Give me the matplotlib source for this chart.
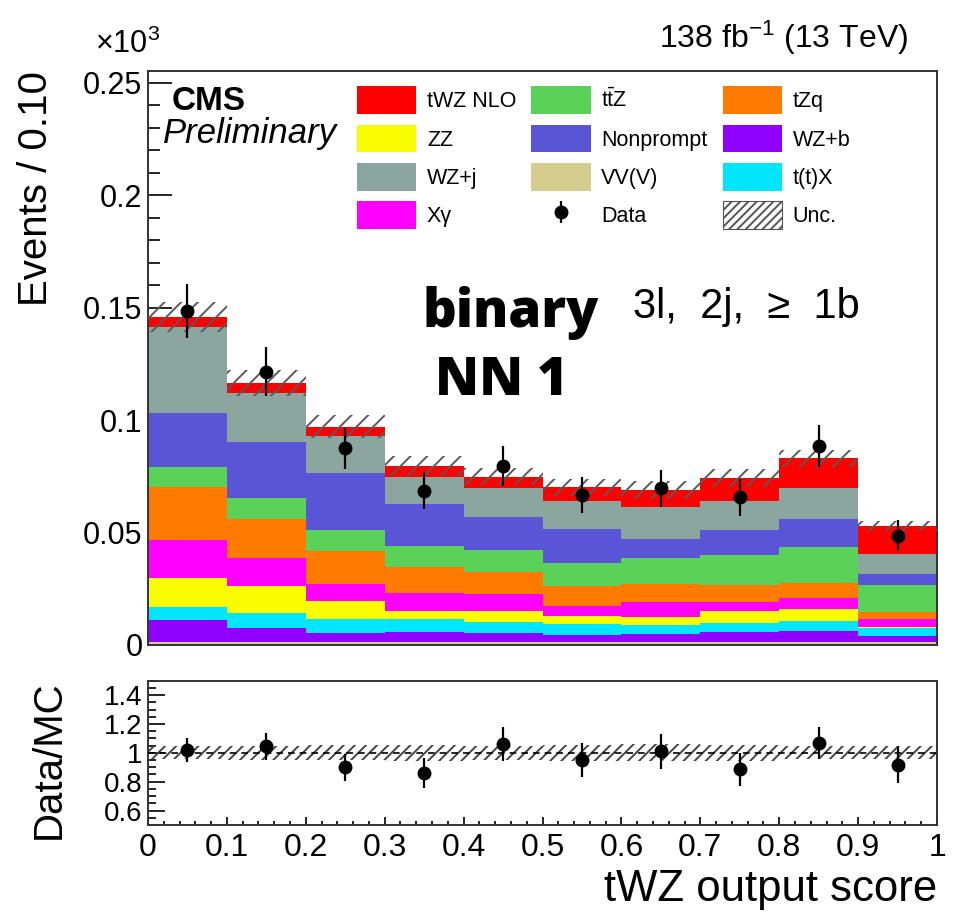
import numpy as np
import matplotlib
matplotlib.use("Agg")
import matplotlib.pyplot as plt
from matplotlib.patches import Patch
from matplotlib.ticker import MultipleLocator, FuncFormatter

plt.rcParams['font.family'] = ['Liberation Sans', 'DejaVu Sans']
plt.rcParams['mathtext.fontset'] = 'custom'
plt.rcParams['mathtext.rm'] = 'Liberation Sans'
plt.rcParams['mathtext.it'] = 'Liberation Sans:italic'
plt.rcParams['hatch.linewidth'] = 1.4

# bins of the tWZ output score
bin_edges = np.round(np.arange(0.0, 1.01, 0.1), 2)

# stacked backgrounds / signal, in units of 10^3 events (bottom -> top)
vvv       = [0.0015, 0.0015, 0.0015, 0.0015, 0.0015, 0.0015, 0.0015, 0.0015, 0.0015, 0.0015]
wz_b      = [0.0096, 0.0059, 0.0040, 0.0041, 0.0037, 0.0029, 0.0034, 0.0041, 0.0049, 0.0025]
ttx       = [0.0056, 0.0070, 0.0059, 0.0058, 0.0049, 0.0048, 0.0040, 0.0040, 0.0044, 0.0034]
zz        = [0.0129, 0.0118, 0.0083, 0.0038, 0.0050, 0.0038, 0.0034, 0.0056, 0.0051, 0.0007]
xgamma    = [0.0171, 0.0126, 0.0074, 0.0078, 0.0076, 0.0045, 0.0070, 0.0041, 0.0048, 0.0036]
tzq       = [0.0237, 0.0171, 0.0147, 0.0115, 0.0096, 0.0087, 0.0078, 0.0074, 0.0070, 0.0028]
ttz       = [0.0086, 0.0093, 0.0093, 0.0096, 0.0099, 0.0104, 0.0117, 0.0133, 0.0160, 0.0122]
nonprompt = [0.0243, 0.0252, 0.0255, 0.0186, 0.0148, 0.0150, 0.0083, 0.0111, 0.0122, 0.0049]
wz_j      = [0.0379, 0.0217, 0.0163, 0.0121, 0.0129, 0.0124, 0.0144, 0.0130, 0.0140, 0.0087]
twz       = [0.0047, 0.0042, 0.0041, 0.0048, 0.0049, 0.0061, 0.0074, 0.0100, 0.0131, 0.0126]

# observed data and its uncertainty
data     = [0.1486, 0.1215, 0.0874, 0.0686, 0.0796, 0.0667, 0.0696, 0.0656, 0.0884, 0.0486]
data_err = [0.0121, 0.0108, 0.0091, 0.0082, 0.0088, 0.0082, 0.0082, 0.0083, 0.0092, 0.0069]

# relative uncertainty of the prediction
unc_rel = [0.046, 0.050, 0.053, 0.055, 0.050, 0.055, 0.058, 0.054, 0.046, 0.045]

samples = [
    ("VV(V)", vvv, "#d5cd8e"),
    ("WZ+b", wz_b, "#9000ff"),
    ("t(t)X", ttx, "#00e6ff"),
    ("ZZ", zz, "#fafc00"),
    ("X\u03b3", xgamma, "#ff00ff"),
    ("tZq", tzq, "#ff7b00"),
    ("t$\\bar{\\rm t}$Z", ttz, "#5ad157"),
    ("Nonprompt", nonprompt, "#5955d6"),
    ("WZ+j", wz_j, "#8ba59f"),
    ("tWZ NLO", twz, "#ff0000"),
]

left = bin_edges[:-1]
centers = left + 0.05
width = 0.1

fig = plt.figure(figsize=(9.58, 9.23), dpi=100)
ax = fig.add_axes([0.1545, 0.3012, 0.8236, 0.6222])
rax = fig.add_axes([0.1545, 0.1062, 0.8236, 0.1563])

bottom = np.zeros(len(left))
handles = {}
for name, vals, col in samples:
    vals = np.array(vals)
    ax.bar(left, vals, width=width, bottom=bottom, align='edge',
           color=col, linewidth=0, zorder=2)
    handles[name] = Patch(facecolor=col, edgecolor='none')
    bottom = bottom + vals
total = bottom

unc_abs = total * np.array(unc_rel)
ax.bar(left, 2 * unc_abs, width=width, bottom=total - unc_abs, align='edge',
       fill=False, hatch='//', edgecolor='#5a5a5a', linewidth=0, zorder=3)

eb = ax.errorbar(centers, data, yerr=data_err, fmt='o', color='black',
                 markersize=9, elinewidth=1.6, capsize=0, zorder=4)

# legend, three columns filled row by row as in the original
unc_handle = Patch(facecolor='white', edgecolor='#555555', hatch='////', linewidth=0.8)
order = [
    (handles["tWZ NLO"], "tWZ NLO"),
    (handles["ZZ"], "ZZ"),
    (handles["WZ+j"], "WZ+j"),
    (handles["X\u03b3"], "X\u03b3"),
    (handles["t$\\bar{\\rm t}$Z"], "t$\\bar{\\rm t}$Z"),
    (handles["Nonprompt"], "Nonprompt"),
    (handles["VV(V)"], "VV(V)"),
    (eb, "Data"),
    (handles["tZq"], "tZq"),
    (handles["WZ+b"], "WZ+b"),
    (handles["t(t)X"], "t(t)X"),
    (unc_handle, "Unc."),
]
ax.legend([h for h, _ in order], [l for _, l in order], ncol=3,
          loc='upper left', bbox_to_anchor=(0.2649, 0.973), frameon=False,
          fontsize=15.5, borderpad=0, borderaxespad=0, handlelength=2.75,
          handleheight=1.6, handletextpad=0.5, columnspacing=0.7,
          labelspacing=0.5)

ax.set_xlim(0, 1)
ax.set_ylim(0, 0.2553)
ax.set_ylabel("Events / 0.10", fontsize=29, loc='top')
ax.yaxis.set_label_coords(-0.118, 1.0)
ax.yaxis.set_major_locator(MultipleLocator(0.05))
ax.yaxis.set_minor_locator(MultipleLocator(0.01))
ax.yaxis.set_major_formatter(FuncFormatter(lambda v, p: "%g" % round(v, 3)))
ax.xaxis.set_major_locator(MultipleLocator(0.1))
ax.xaxis.set_minor_locator(MultipleLocator(0.02))
ax.tick_params(axis='y', which='major', direction='in', length=17, width=1.2,
               labelsize=22, pad=4)
ax.tick_params(axis='y', which='minor', direction='in', length=8.5, width=1.2)
ax.tick_params(axis='x', which='major', direction='in', length=11, width=1.2,
               labelbottom=False)
ax.tick_params(axis='x', which='minor', direction='in', length=5, width=1.2)
for sp in ax.spines.values():
    sp.set_linewidth(1.4)
    sp.set_color('#333333')

ax.text(0.0304, 0.9316, "CMS", transform=ax.transAxes, fontsize=24,
        fontweight='bold', va='baseline', ha='left')
ax.text(0.019, 0.8736, "Preliminary", transform=ax.transAxes, fontsize=25,
        style='italic', va='baseline', ha='left')
ax.text(0.3485, 0.5542, "binary", transform=ax.transAxes, fontsize=38,
        family=['Open Sans', 'DejaVu Sans'], fontweight='heavy', va='baseline', ha='left')
ax.text(0.3638, 0.4353, "NN 1", transform=ax.transAxes, fontsize=38,
        family=['Open Sans', 'DejaVu Sans'], fontweight='heavy', va='baseline', ha='left')
ax.text(0.6147, 0.5694, "3l,  2j,  \u2265  1b", transform=ax.transAxes, fontsize=30,
        va='baseline', ha='left')
ax.text(0.9632, 1.039, "138 fb$^{-1}$ (13 TeV)", transform=ax.transAxes,
        fontsize=23, va='baseline', ha='right')
ax.text(-0.0672, 1.0308, "\u00d710$^{3}$", transform=ax.transAxes,
        fontsize=22, va='baseline', ha='left')

# ratio panel
ratio = np.array(data) / total
ratio_err = np.array(data_err) / total
rax.bar(left, 2 * np.array(unc_rel), width=width, bottom=1 - np.array(unc_rel),
        align='edge', fill=False, hatch='///', edgecolor='#444444', linewidth=0,
        zorder=2)
rax.axhline(1.0, color='black', linestyle=(0, (4, 3)), linewidth=1.2, zorder=3)
rax.errorbar(centers, ratio, yerr=ratio_err, fmt='o', color='black',
             markersize=9, elinewidth=1.6, capsize=0, zorder=4)

rax.set_xlim(0, 1)
rax.set_ylim(0.5, 1.5)
rax.set_yticks([0.6, 0.8, 1.0, 1.2, 1.4])
rax.yaxis.set_minor_locator(MultipleLocator(0.05))
rax.yaxis.set_major_formatter(FuncFormatter(lambda v, p: "%g" % round(v, 2)))
rax.xaxis.set_major_locator(MultipleLocator(0.1))
rax.xaxis.set_minor_locator(MultipleLocator(0.02))
rax.xaxis.set_major_formatter(FuncFormatter(lambda v, p: "%g" % round(v, 2)))
rax.tick_params(axis='y', which='major', direction='in', length=12, width=1.2,
                labelsize=20, pad=4)
rax.tick_params(axis='y', which='minor', direction='in', length=6, width=1.2)
rax.tick_params(axis='x', which='major', direction='in', length=6, width=1.2,
                labelsize=23, pad=6)
rax.tick_params(axis='x', which='minor', direction='in', length=3, width=1.2)
for sp in rax.spines.values():
    sp.set_linewidth(1.4)
    sp.set_color('#333333')
rax.set_ylabel("Data/MC", fontsize=29, loc='top')
rax.yaxis.set_label_coords(-0.1014, 1.0)
rax.set_xlabel("tWZ output score", fontsize=31.5, loc='right', labelpad=4)

fig.savefig("out.png", dpi=100)
